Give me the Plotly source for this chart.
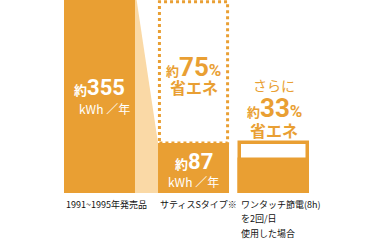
import plotly.graph_objects as go

# ---- data ----
categories = [["1991~1995年発売品"], ["サティスSタイプ※"], ["ワンタッチ節電(8h)", "を2回/日", "使用した場合"]]
values = [355, 87]                 # kWh / year
saving_pct = [75, 33]              # % saving
value_labels = ["355", "87"]
bar3_ref = 87                      # outline reference (Satis S)
bar3_value = 87 * (1 - 0.33)       # further 33% saving

# ---- layout constants ----
ORANGE = "#E99F33"
LIGHT = "#FAD9A6"
W, H = 377, 244
MB = 51
PH = H - MB
YMAX = 336
xpos = [0, 1, 1.86]
BW = 0.755
XR = [-1.0585, 2.952]

JP = "Noto Sans CJK JP"
NUM = "Roboto"

def py(p):  # pixel row -> paper y
    return (PH - p) / PH

fig = go.Figure()

# connector (light wedge)
x1r = xpos[0] + BW / 2
x2l = xpos[1] - BW / 2
fig.add_trace(go.Scatter(
    x=[x1r, x2l, x2l, x1r, x1r], y=[values[0], values[1], 0, 0, values[0]],
    fill="toself", fillcolor=LIGHT, mode="lines", line=dict(width=0),
    hoverinfo="skip", showlegend=False))

# main bars
fig.add_trace(go.Bar(x=xpos[:2], y=values, width=BW, marker=dict(color=ORANGE, line=dict(width=0)),
                     showlegend=False))
# bar 3: outline for reference and filled part
fig.add_trace(go.Bar(x=[xpos[2]], y=[bar3_ref], width=BW - 0.03,
                     marker=dict(color="white", line=dict(color=ORANGE, width=3.5)), showlegend=False))
fig.add_trace(go.Bar(x=[xpos[2]], y=[bar3_value], width=BW - 0.03,
                     marker=dict(color=ORANGE, line=dict(color=ORANGE, width=3.5)), showlegend=False))

# dotted box above bar 2
fig.add_shape(type="rect", xref="x", yref="y",
              x0=xpos[1] - BW / 2 + 0.015, x1=xpos[1] + BW / 2 - 0.015,
              y0=values[1], y1=YMAX - 3,
              line=dict(color=ORANGE, width=3, dash="dot"), layer="above")

ann = []

def yaku(num, pct=False):
    t = (f"<span style='font-size:13px;font-family:\"{JP}\"'><b>約</b></span>"
         f"<b>{num}</b>")
    if pct:
        t += "<span style='font-size:17px'><b>%</b></span>"
    return t

def line(x, yc, text, size, color, family=JP):
    ann.append(dict(x=x, y=py(yc), xref="x", yref="paper", text=text, showarrow=False,
                    font=dict(family=family, size=size, color=color), xanchor="center", yanchor="middle"))

unit = "kWh ／年"

# bar value labels
line(xpos[0], 88, yaku(value_labels[0]), 22, "white", NUM)
line(xpos[0] + 0.05, 108, unit, 12, "white")
line(xpos[1], 161, yaku(value_labels[1]), 22, "white", NUM)
line(xpos[1], 181, unit, 12, "white")
# saving labels
line(xpos[1], 67, yaku(saving_pct[0], pct=True), 26, ORANGE, NUM)
line(xpos[1], 87, "<b>省エネ</b>", 16, ORANGE)
line(xpos[2], 85, "さらに", 14, ORANGE)
line(xpos[2], 108, yaku(saving_pct[1], pct=True), 26, ORANGE, NUM)
line(xpos[2], 130, "<b>省エネ</b>", 16, ORANGE)

# category labels (one annotation per line)
for i, lines in enumerate(categories):
    for j, t in enumerate(lines):
        ann.append(dict(x=xpos[i] - BW / 2, y=py(204 + 14.5 * j), xref="x", yref="paper", text=t,
                        showarrow=False, xanchor="left", yanchor="middle",
                        font=dict(family=JP, size=9, color="#111")))

fig.update_layout(
    width=W, height=H, margin=dict(l=0, r=0, t=0, b=MB),
    paper_bgcolor="white", plot_bgcolor="white", barmode="overlay",
    xaxis=dict(range=XR, visible=False, fixedrange=True),
    yaxis=dict(range=[0, YMAX], visible=False, fixedrange=True),
    annotations=ann, bargap=0,
)
fig.write_html("out.html")
